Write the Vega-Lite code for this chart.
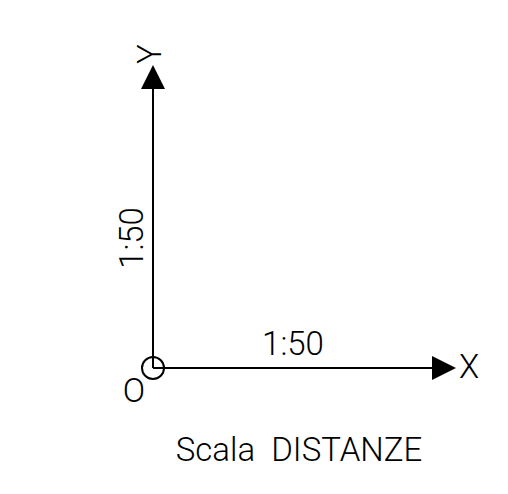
{
  "$schema": "https://vega.github.io/schema/vega-lite/v6.json",
  "width": 508,
  "height": 494,
  "autosize": {"type": "fit", "contains": "padding"},
  "padding": 0,
  "background": "white",
  "config": {"view": {"stroke": null}},
  "encoding": {
    "x": {"field": "x", "type": "quantitative", "scale": {"domain": [-153, 355], "nice": false, "zero": false}, "axis": null},
    "y": {"field": "y", "type": "quantitative", "scale": {"domain": [-126, 368], "nice": false, "zero": false}, "axis": null}
  },
  "layer": [
    {
      "data": {"values": [{"x": 0, "y": 0, "x2": 0, "y2": 280}, {"x": 0, "y": 0, "x2": 280, "y2": 0}]},
      "mark": {"type": "rule", "color": "black", "strokeWidth": 2},
      "encoding": {"x2": {"field": "x2"}, "y2": {"field": "y2"}}
    },
    {
      "data": {"values": [{"x": 0, "y": 291}]},
      "mark": {"type": "point", "shape": "M0,-1L-1,1L1,1Z", "size": 576, "filled": true, "color": "black", "opacity": 1, "strokeWidth": 0}
    },
    {
      "data": {"values": [{"x": 291, "y": 0}]},
      "mark": {"type": "point", "shape": "M1,0L-1,-1L-1,1Z", "size": 576, "filled": true, "color": "black", "opacity": 1, "strokeWidth": 0}
    },
    {
      "data": {"values": [{"x": 0, "y": 0}]},
      "mark": {"type": "point", "shape": "circle", "size": 484, "filled": false, "color": "black", "opacity": 1, "strokeWidth": 2}
    },
    {
      "data": {"values": [
        {"x": 316, "y": 0, "t": "X"},
        {"x": -19, "y": -24, "t": "O"}
      ]},
      "mark": {"type": "text", "font": "Roboto", "fontWeight": 300, "fontSize": 33, "color": "black", "baseline": "middle", "align": "center"},
      "encoding": {"text": {"field": "t"}}
    },
    {
      "data": {"values": [
        {"x": 140, "y": 23, "t": "1:50"}
      ]},
      "mark": {"type": "text", "font": "Roboto", "fontWeight": 300, "fontSize": 33, "letterSpacing": 3, "color": "black", "baseline": "middle", "align": "center"},
      "encoding": {"text": {"field": "t"}}
    },
    {
      "data": {"values": [
        {"x": 146, "y": -83, "t": "Scala\u00a0\u00a0DISTANZE"}
      ]},
      "mark": {"type": "text", "font": "Roboto", "fontWeight": 300, "fontSize": 33, "letterSpacing": 1, "color": "black", "baseline": "middle", "align": "center"},
      "encoding": {"text": {"field": "t"}}
    },
    {
      "data": {"values": [
        {"x": -2, "y": 314, "t": "Y"}
      ]},
      "mark": {"type": "text", "font": "Roboto", "fontWeight": 300, "fontSize": 33, "angle": 270, "color": "black", "baseline": "middle", "align": "center"},
      "encoding": {"text": {"field": "t"}}
    },
    {
      "data": {"values": [
        {"x": -20, "y": 130, "t": "1:50"}
      ]},
      "mark": {"type": "text", "font": "Roboto", "fontWeight": 300, "fontSize": 33, "letterSpacing": 3, "angle": 270, "color": "black", "baseline": "middle", "align": "center"},
      "encoding": {"text": {"field": "t"}}
    }
  ]
}
